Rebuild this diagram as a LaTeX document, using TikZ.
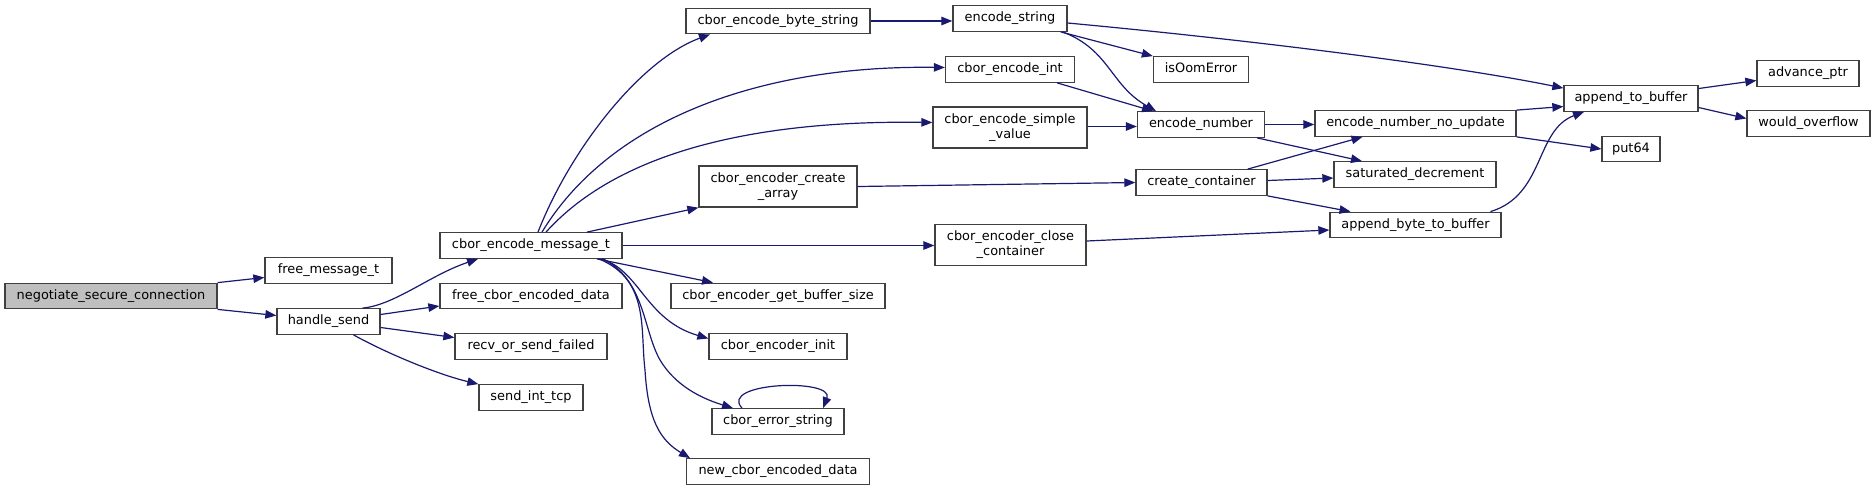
\documentclass[tikz,border=0pt]{standalone}
\usepackage{fontspec}
\setmainfont{DejaVu Sans}
\usepackage{tikz}
\usetikzlibrary{arrows.meta}
\definecolor{edgeblue}{RGB}{25,25,112}
\definecolor{boxline}{RGB}{64,64,64}
\definecolor{rootgray}{RGB}{191,191,191}
\tikzset{
  fnbox/.style={rectangle, draw=boxline, fill=white, line width=1.3pt, inner sep=0pt,
    font=\fontsize{12.9}{15}\selectfont, align=center},
  call/.style={-{Triangle[length=11pt, width=8.5pt]}, line width=1.2pt, color=edgeblue}
}
\begin{document}
\begin{tikzpicture}[x=1pt, y=-1pt,
  onebox/.style={fnbox, minimum height=25.5pt, text height=9.5pt, text depth=3pt},
  twobox/.style={fnbox, minimum height=41pt}
]
\useasboundingbox (0,0) rectangle (1876,491);
% the caller
\node[onebox, fill=rootgray, minimum width=212pt] (ns) at (111,296) {negotiate\_secure\_connection};
% single line boxes
\foreach \n/\x/\y/\w/\t in {
  fm/328.5/270.5/127/free\_message\_t,
  hs/328.5/321.5/103/handle\_send,
  cem/531/245.5/182/cbor\_encode\_message\_t,
  fcd/531/296/182/free\_cbor\_encoded\_data,
  rsf/531/346.5/152/recv\_or\_send\_failed,
  sit/531/397.5/104/send\_int\_tcp,
  ceb/778/21/184/cbor\_encode\_byte\_string,
  cgb/778/296/214/cbor\_encoder\_get\_buffer\_size,
  cei/778/346.5/138/cbor\_encoder\_init,
  ces/778/421.5/132/cbor\_error\_string,
  ncd/778/471.5/183/new\_cbor\_encoded\_data,
  es/1010/18.5/114/encode\_string,
  cint/1010/69.5/129/cbor\_encode\_int,
  ioe/1201/69.5/95/isOomError,
  en/1201/124.5/127/encode\_number,
  cc/1201.5/182.5/131/create\_container,
  enu/1415.5/123.5/201/encode\_number\_no\_update,
  sd/1415/174.5/162/saturated\_decrement,
  abb/1415.5/225/171/append\_byte\_to\_buffer,
  atb/1631/98.5/134/append\_to\_buffer,
  p64/1631/149/58/put64,
  ap/1808/73.5/102/advance\_ptr,
  wo/1808.5/123.5/123/would\_overflow} {
  \node[onebox, minimum width=\w pt] (\n) at (\x,\y) {\t};
}
% two line boxes
\node[twobox, minimum width=158pt] (cca) at (778,186.5) {cbor\_encoder\_create\\\_array};
\node[twobox, minimum width=154pt] (csv) at (1010,127.5) {cbor\_encode\_simple\\\_value};
\node[twobox, minimum width=151pt] (ccc) at (1010.5,245) {cbor\_encoder\_close\\\_container};

% calls
\draw[call] (ns.north east) -- ([yshift=-7pt]fm.west);
\draw[call] (ns.south east) -- ([yshift=6pt]hs.west);
\draw[call] ([xshift=34pt]hs.north) .. controls (395,305) and (430,275) .. ([xshift=-53pt]cem.south);
\draw[call] ([yshift=7pt]hs.east) -- ([yshift=-10pt]fcd.west);
\draw[call] ([yshift=-6pt]hs.east) -- ([yshift=9pt]rsf.west);
\draw[call] ([xshift=25pt]hs.south) .. controls (390,355) and (440,375) .. (sit.north west);

\draw[call] ([xshift=7pt]cem.north) .. controls (570,150) and (640,60) .. ([xshift=-68pt]ceb.south);
\draw[call] ([xshift=11pt]cem.north) .. controls (610,120) and (760,65) .. ([yshift=2pt]cint.west);
\draw[call] ([xshift=15pt]cem.north) .. controls (620,150) and (760,120) .. ([yshift=5pt]csv.west);
\draw[call] ([xshift=56pt]cem.north) -- (cca.south west);
\draw[call] (cem.east) -- (cem.east -| ccc.west);
\draw[call] ([xshift=66pt]cem.south) -- ([xshift=-65pt]cgb.north);
\draw[call] ([xshift=70pt]cem.south) .. controls (640,270) and (645,320) .. ([yshift=8pt]cei.west);
\draw[call] ([xshift=72pt]cem.south) .. controls (645,280) and (643,330) .. (660,360)
  .. controls (675,385) and (700,398) .. ([xshift=-45pt]ces.north);
\draw[call] ([xshift=68pt]cem.south) .. controls (650,280) and (640,330) .. (645,370)
  .. controls (648,420) and (660,440) .. ([xshift=-88pt]ncd.north);
\draw[call] ([xshift=-36pt]ces.north) .. controls (718,382) and (835,378) .. ([xshift=45pt]ces.north);

\draw[call] (ceb.east) -- (ceb.east -| es.west);
\draw[call] ([yshift=-4.5pt]es.east) .. controls (1250,40) and (1450,65) .. ([yshift=-3pt]atb.north west);
\draw[call] ([xshift=-7pt]es.south east) -- (ioe.north west);
\draw[call] ([xshift=-5pt]es.south east) .. controls (1110,50) and (1110,85) .. ([xshift=-45pt]en.north);
\draw[call] ([xshift=-18pt]cint.south east) -- ([xshift=-48pt]en.north);
\draw[call] ([yshift=1pt]csv.east) -- ([yshift=1pt]csv.east -| en.west);
\draw[call] (en.east) -- (en.east -| enu.west);
\draw[call] ([xshift=-8pt]en.south east) -- ([xshift=-53pt]sd.north);
\draw[call] (cca.east) -- (cc.west);
\draw[call] ([xshift=-20pt]cc.north east) -- ([xshift=-53pt]enu.south);
\draw[call] ([yshift=2pt]cc.east) -- ([yshift=-3.5pt]sd.west);
\draw[call] (cc.south east) -- ([xshift=-65pt]abb.north);
\draw[call] ([yshift=4pt]ccc.east) -- ([yshift=-5pt]abb.west);

\draw[call] (enu.north east) -- ([yshift=-8pt]atb.west);
\draw[call] (enu.south east) -- (p64.west);
\draw[call] ([xshift=75pt]abb.north) .. controls (1545,195) and (1535,130) .. ([xshift=-47pt]atb.south);
\draw[call] ([yshift=10pt]atb.east) -- ([yshift=-7pt]ap.west);
\draw[call] ([yshift=-9pt]atb.east) -- ([yshift=5pt]wo.west);
\end{tikzpicture}
\end{document}
